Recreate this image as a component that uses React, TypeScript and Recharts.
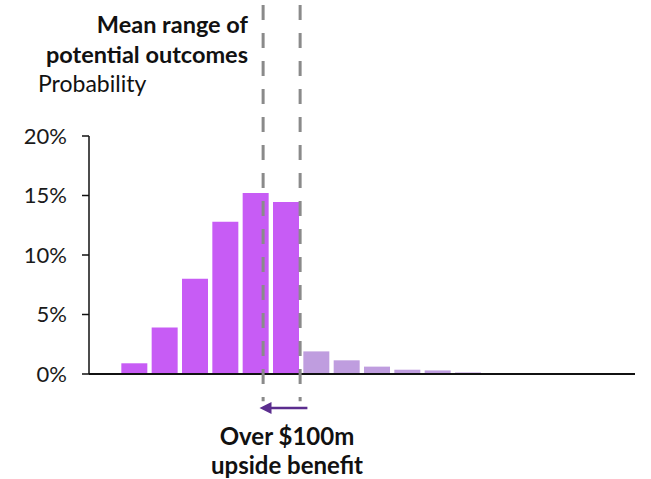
import { BarChart, Bar, Cell, XAxis, YAxis, ReferenceLine } from 'recharts'

// probability per outcome bin (%)
const bins = ['b0', 'b1', 'b2', 'b3', 'b4', 'b5', 'b6', 'b7', 'b8', 'b9', 'b10', 'b11', 'b12', 'b13', 'b14', 'b15', 'b16', 'b17']
const probability = [0, 0.9, 3.9, 8.0, 12.8, 15.2, 14.45, 1.9, 1.15, 0.62, 0.36, 0.3, 0.13, 0.05, 0, 0, 0, 0]
const group = ['in', 'in', 'in', 'in', 'in', 'in', 'in', 'out', 'out', 'out', 'out', 'out', 'out', 'tail', 'out', 'out', 'out', 'out']
const yTicks = [0, 5, 10, 15, 20]

// mean range markers, in bin units, and their vertical extent in %
const rangeLow = 5.74
const rangeHigh = 6.96
const dashTop = 31
const dashBottom = -2.3
const arrowY = -2.85
const arrowFrom = 7.2
const arrowTo = 5.62

const colors: Record<string, string> = {
  in: '#c75cf5',
  out: '#bf9ddf',
  tail: '#5a3c78',
}

// each bin is drawn at the middle of its unit slot
const data = bins.map((b, i) => ({ bin: b, x: i + 0.5, p: probability[i], g: group[i] }))

const font = 'Lato, sans-serif'

function Arrow(props: any) {
  const { x1, y1, x2 } = props
  return (
    <g>
      <line x1={x1} y1={y1} x2={x2 + 10} y2={y1} stroke="#5b2d8e" strokeWidth={2.5} />
      <polygon points={`${x2},${y1} ${x2 + 12},${y1 - 6} ${x2 + 12},${y1 + 6}`} fill="#5b2d8e" />
    </g>
  )
}

export default function App() {
  return (
    <div style={{ position: 'absolute', left: 0, top: 0, width: 651, height: 479, background: '#fff', fontFamily: font, overflow: 'hidden' }}>
      <BarChart
        width={651}
        height={479}
        data={data}
        margin={{ top: 136, right: 16, bottom: 105, left: 0 }}
      >
        <XAxis
          dataKey="x"
          type="number"
          domain={[0, bins.length]}
          allowDataOverflow
          tick={false}
          tickLine={false}
          height={0}
          axisLine={false}
        />
        <YAxis
          domain={[0, 20]}
          ticks={yTicks}
          width={89}
          tickFormatter={(v) => `${v}%`}
          tick={{ fill: '#1a1a1a', fontSize: 22, fontFamily: font }}
          tickLine={{ stroke: '#111', strokeWidth: 1.5 }}
          tickSize={7}
          tickMargin={15}
          axisLine={{ stroke: '#111', strokeWidth: 1.5 }}
        />
        <Bar dataKey="p" barSize={26} isAnimationActive={false}>
          {data.map((d) => (
            <Cell key={d.bin} fill={colors[d.g]} />
          ))}
        </Bar>
        <ReferenceLine y={0} stroke="#111" strokeWidth={2} />
        {[rangeLow, rangeHigh].map((x) => (
          <ReferenceLine
            key={x}
            ifOverflow="visible"
            segment={[{ x, y: dashTop }, { x, y: dashBottom }]}
            stroke="#8a8a8a"
            strokeWidth={3}
            strokeDasharray="15 13"
          />
        ))}
        <ReferenceLine
          ifOverflow="visible"
          segment={[{ x: arrowFrom, y: arrowY }, { x: arrowTo, y: arrowY }]}
          shape={<Arrow />}
        />
      </BarChart>
      <div style={{ position: 'absolute', right: 651 - 248, top: 9, textAlign: 'right', fontSize: 23.5, fontWeight: 700, lineHeight: '30px', color: '#111', whiteSpace: 'nowrap' }}>
        Mean range of
        <br />
        potential outcomes
      </div>
      <div style={{ position: 'absolute', left: 38, top: 68, fontSize: 23, lineHeight: '30px', color: '#111' }}>Probability</div>
      <div style={{ position: 'absolute', left: 287, top: 421, transform: 'translateX(-50%)', textAlign: 'center', fontSize: 24, fontWeight: 700, lineHeight: '29px', color: '#111', whiteSpace: 'nowrap' }}>
        Over $100m
        <br />
        upside benefit
      </div>
    </div>
  )
}
